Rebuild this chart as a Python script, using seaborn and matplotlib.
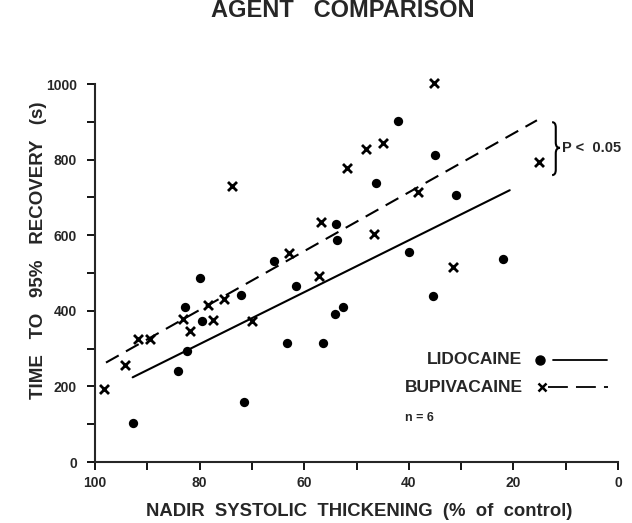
import matplotlib
matplotlib.use("Agg")
import matplotlib.pyplot as plt
import seaborn as sns
import pandas as pd
from matplotlib.path import Path
from matplotlib.patches import PathPatch
from matplotlib.ticker import MultipleLocator

# values
lido_x = [92.7, 84.2, 82.8, 82.4, 79.9, 79.6, 72.1, 71.5, 65.8, 63.2, 61.5, 56.4,
          54.2, 52.5, 53.9, 53.8, 46.2, 42.0, 39.9, 35.4, 35.0, 30.9, 21.9]
lido_y = [102, 241, 411, 293, 486, 372, 443, 159, 533, 314, 465, 315,
          392, 409, 629, 586, 739, 903, 555, 438, 813, 707, 538]

bupi_x = [98.2, 94.2, 91.7, 89.5, 83.1, 81.9, 78.3, 77.5, 75.3, 70.0, 73.9,
          62.9, 57.2, 56.7, 51.8, 48.1, 44.9, 46.7, 38.2, 35.1, 31.5, 15.1]
bupi_y = [194, 256, 325, 325, 378, 346, 416, 376, 431, 374, 729,
          553, 493, 635, 778, 828, 843, 604, 714, 1003, 515, 794]

# fitted regression lines (end points)
lido_fit_x = [92.8, 20.7]
lido_fit_y = [224, 719]
bupi_fit_x = [97.9, 15.5]
bupi_fit_y = [263, 904]

x_ticks = [100, 80, 60, 40, 20, 0]
y_ticks = [0, 200, 400, 600, 800, 1000]

sns.set_style("ticks")
plt.rcParams['font.family'] = ['Liberation Sans', 'DejaVu Sans']
plt.rcParams['font.weight'] = 'bold'

lido = pd.DataFrame({'x': lido_x, 'y': lido_y})
bupi = pd.DataFrame({'x': bupi_x, 'y': bupi_y})

fig = plt.figure(figsize=(6.32, 5.23), dpi=100)
ax = fig.add_axes([95 / 632, 61 / 523, 523 / 632, 378 / 523])

sns.lineplot(x=lido_fit_x, y=lido_fit_y, ax=ax, color='black', lw=1.5, sort=False)
sns.lineplot(x=bupi_fit_x, y=bupi_fit_y, ax=ax, color='black', lw=1.5, sort=False,
             linestyle=(0, (7, 4)))
sns.scatterplot(data=lido, x='x', y='y', ax=ax, color='black', marker='o', s=45,
                edgecolor='black', linewidth=0, clip_on=False, zorder=3)
sns.scatterplot(data=bupi, x='x', y='y', ax=ax, color='black', marker='x', s=42,
                linewidth=2.0, clip_on=False, zorder=3)

ax.set_xlim(100, 0)
ax.set_ylim(0, 1000)
ax.set_xticks(x_ticks)
ax.set_xticklabels([str(t) for t in x_ticks])
ax.set_yticks(y_ticks)
ax.set_yticklabels([str(t) for t in y_ticks])
ax.xaxis.set_minor_locator(MultipleLocator(10))
ax.yaxis.set_minor_locator(MultipleLocator(100))
ax.tick_params(which='both', direction='out', length=6, width=1.3, color='black')
ax.tick_params(axis='x', labelsize=10, pad=4)
ax.tick_params(axis='y', labelsize=10, pad=7)
for lab in ax.get_xticklabels() + ax.get_yticklabels():
    lab.set_fontweight('bold')
sns.despine(ax=ax)
for side in ['left', 'bottom']:
    ax.spines[side].set_linewidth(1.5)

ax.set_xlabel('NADIR  SYSTOLIC  THICKENING  (%  of  control)', fontsize=13.3,
              fontweight='bold', va='center')
ax.xaxis.set_label_coords(0.505, -0.130)
ax.set_ylabel('')
fig.text(39 / 632, 1 - 250 / 523, 'TIME   TO   95%   RECOVERY   (s)', rotation=90,
         ha='center', va='center', fontsize=13.5, fontweight='bold')
ax.set_title('AGENT   COMPARISON', fontsize=17, fontweight='bold',
             x=0.474, y=1.172, va='center')

# legend drawn by hand
tr = ax.transAxes
ax.text(0.816, 0.270, 'LIDOCAINE', transform=tr, ha='right', va='center',
        fontsize=12.5, fontweight='bold')
ax.plot([0.851], [0.270], 'o', color='black', ms=6.5, transform=tr, clip_on=False)
ax.plot([0.876, 0.979], [0.270, 0.270], '-', color='black', lw=1.3, transform=tr,
        clip_on=False)
ax.text(0.818, 0.198, 'BUPIVACAINE', transform=tr, ha='right', va='center',
        fontsize=12.5, fontweight='bold')
ax.plot([0.855], [0.198], 'x', color='black', ms=6, mew=1.8, transform=tr,
        clip_on=False)
ax.plot([0.866, 0.981], [0.198, 0.198], color='black', lw=1.3, transform=tr,
        linestyle=(0, (11, 4.5)), clip_on=False)
ax.text(0.593, 0.116, 'n = 6', transform=tr, ha='left', va='center',
        fontsize=9, fontweight='bold')

# brace with P value
x0, xm, xt = 0.874, 0.881, 0.889
yt, ym, yb, d = 0.899, 0.831, 0.759, 0.014
verts = [(x0, yt), (xm, yt), (xm, yt - d), (xm, ym + d), (xm, ym), (xt, ym),
         (xm, ym), (xm, ym - d), (xm, yb + d), (xm, yb), (x0, yb)]
codes = [Path.MOVETO, Path.CURVE3, Path.CURVE3, Path.LINETO, Path.CURVE3, Path.CURVE3,
         Path.CURVE3, Path.CURVE3, Path.LINETO, Path.CURVE3, Path.CURVE3]
ax.add_patch(PathPatch(Path(verts, codes), transform=tr, fill=False, lw=1.5,
                       edgecolor='black', clip_on=False))
ax.text(0.892, 0.831, 'P <  0.05', transform=tr, ha='left', va='center',
        fontsize=10.5, fontweight='bold', clip_on=False)

fig.savefig('out.png', dpi=100)
